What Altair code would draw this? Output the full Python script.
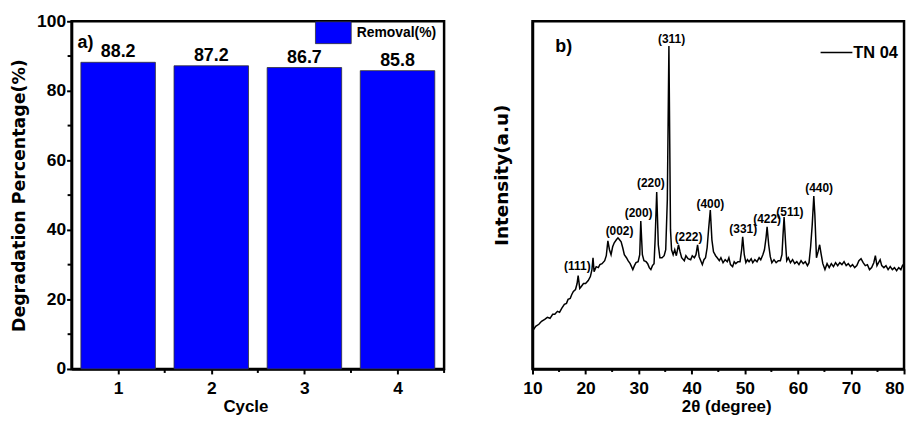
import altair as alt
import pandas as pd

# ---------------- panel a) data ----------------
cycles = [1, 2, 3, 4]
removal = [88.2, 87.2, 86.7, 85.8]
cycle_ticks = [1, 2, 3, 4]
cycle_minor = [1.5, 2.5, 3.5, 4.5]
pct_ticks = [0, 20, 40, 60, 80, 100]
pct_minor = [10, 30, 50, 70, 90]

# ---------------- panel b) data ----------------
two_theta = [10.0, 10.6, 11.2, 11.7, 12.3, 12.8, 13.3, 13.8, 14.2, 14.7, 15.1, 15.5, 16.0, 16.4, 16.7,
             17.1, 17.4, 17.7, 18.1, 18.4, 18.6, 18.9, 19.2, 19.6, 20.0, 20.5, 20.9, 21.2, 21.4, 21.6,
             22.0, 22.4, 22.7, 23.1, 23.6, 23.9, 24.2, 24.5, 24.8, 25.1, 25.4, 25.8, 26.1, 26.4, 26.7,
             27.0, 27.3, 27.7, 28.0, 28.4, 28.9, 29.2, 29.5, 29.9, 30.2, 30.4, 30.7, 31.0, 31.4, 31.7,
             32.0, 32.3, 32.6, 32.9, 33.1, 33.4, 33.7, 34.0, 34.4, 34.8, 35.1, 35.4, 35.7, 36.0, 36.2,
             36.5, 36.8, 37.1, 37.5, 37.8, 38.1, 38.6, 38.9, 39.3, 39.8, 40.1, 40.5, 40.8, 41.1, 41.4,
             41.7, 42.0, 42.3, 42.6, 42.9, 43.2, 43.5, 43.8, 44.1, 44.5, 44.8, 45.2, 45.5, 45.9, 46.3,
             46.7, 47.0, 47.3, 47.7, 48.0, 48.3, 48.7, 49.1, 49.4, 49.6, 49.9, 50.2, 50.5, 50.8, 51.2,
             51.5, 51.9, 52.3, 52.7, 53.0, 53.4, 53.7, 54.0, 54.2, 54.5, 54.8, 55.1, 55.5, 55.9, 56.3,
             56.7, 57.0, 57.2, 57.4, 57.7, 57.9, 58.2, 58.6, 59.0, 59.4, 59.8, 60.2, 60.6, 61.0, 61.4,
             61.8, 62.1, 62.4, 62.7, 63.0, 63.2, 63.5, 63.8, 64.1, 64.4, 64.7, 65.1, 65.5, 65.9, 66.3,
             66.7, 67.1, 67.5, 67.9, 68.3, 68.7, 69.1, 69.5, 69.9, 70.3, 70.7, 71.1, 71.5, 71.9, 72.3,
             72.7, 73.1, 73.5, 73.9, 74.3, 74.6, 74.9, 75.2, 75.5, 75.8, 76.2, 76.6, 77.0, 77.4, 77.8,
             78.2, 78.6, 79.0, 79.4, 79.7, 80.0]
intensity = [38, 43, 45, 48, 50, 52, 51, 55, 55, 58, 57, 61, 65, 66, 70,
             71, 75, 78, 80, 86, 94, 81, 83, 86, 86, 89, 93, 100, 112, 98,
             103, 102, 105, 106, 109, 114, 129, 120, 115, 123, 127, 130, 132, 130, 128,
             122, 115, 112, 109, 106, 100, 104, 107, 108, 115, 149, 115, 109, 108, 106,
             102, 100, 104, 106, 130, 178, 125, 112, 112, 114, 120, 170, 325, 140, 120,
             115, 120, 114, 125, 118, 112, 109, 114, 111, 110, 114, 112, 115, 125, 113,
             109, 105, 110, 112, 122, 142, 160, 130, 118, 114, 112, 109, 112, 107, 110,
             108, 112, 105, 103, 108, 106, 108, 108, 120, 133, 115, 107, 110, 108, 111,
             107, 110, 108, 112, 110, 115, 120, 132, 143, 125, 113, 107, 110, 107, 109,
             109, 115, 135, 153, 125, 109, 112, 107, 110, 106, 108, 105, 109, 106, 108,
             104, 107, 123, 145, 174, 155, 112, 118, 125, 115, 106, 100, 106, 102, 106,
             103, 107, 104, 107, 105, 108, 104, 106, 103, 105, 102, 104, 109, 111, 107,
             104, 105, 100, 102, 107, 114, 104, 107, 110, 104, 102, 104, 100, 103, 100,
             102, 99, 102, 100, 104, 106]
deg_ticks = [10, 20, 30, 40, 50, 60, 70, 80]
deg_minor = [15, 25, 35, 45, 55, 65, 75]
hkl = ["(111)", "(002)", "(200)", "(220)", "(311)", "(222)", "(400)", "(331)", "(422)", "(511)", "(440)"]
hkl_x = [18.45, 26.4, 30.0, 32.3, 36.2, 39.4, 43.5, 49.7, 54.2, 58.5, 64.0]
hkl_y = [104, 139, 157, 187, 332, 133, 166, 141, 151, 158, 182]

FONT = "Liberation Sans"
WIDE = "DejaVu Sans"

df_bar = pd.DataFrame({"cycle": cycles, "removal": removal, "series": ["Removal(%)"] * len(cycles)})
df_xminor_a = pd.DataFrame({"cycle": cycle_minor})
df_yminor_a = pd.DataFrame({"removal": pct_minor})

x_a = alt.X("cycle:Q", scale=alt.Scale(domain=[0.5, 4.5], nice=False, zero=False, padding=0),
            axis=alt.Axis(values=cycle_ticks, format="d", title="Cycle", titleX=175,
                          labelFlush=False, labelPadding=6, titlePadding=1.5))
y_a = alt.Y("removal:Q", scale=alt.Scale(domain=[0, 100], nice=False, padding=0),
            axis=alt.Axis(values=pct_ticks, title="Degradation Percentage(%)", titleFont=WIDE,
                          titleFontSize=17.5, labelPadding=1, titlePadding=8, minExtent=0))

bars = alt.Chart(df_bar).mark_bar(width=75, stroke="#333333", strokeWidth=0.8).encode(
    x=x_a, y=y_a,
    color=alt.Color("series:N", scale=alt.Scale(range=["#0000FF"]),
                    legend=alt.Legend(orient="none", legendX=245, legendY=-7, title=None, padding=0,
                                      symbolType="M-1,-0.611H1V0.611H-1Z", symbolSize=1296,
                                      symbolStrokeColor="#333333", symbolStrokeWidth=0.8,
                                      symbolOpacity=1, labelOffset=5, labelFont=FONT,
                                      labelFontSize=14, labelFontWeight="bold", labelColor="black")))
bar_text = alt.Chart(df_bar).mark_text(dy=-5, baseline="alphabetic", font=FONT, fontSize=18,
                                       fontWeight="bold", color="black").encode(
    x=x_a, y=y_a, text=alt.Text("removal:Q", format=".1f"))
xminor_a = alt.Chart(df_xminor_a).mark_tick(orient="vertical", size=4, thickness=2, yOffset=2,
                                            color="black", opacity=1).encode(x=x_a, y=alt.datum(0))
yminor_a = alt.Chart(df_yminor_a).mark_tick(orient="horizontal", size=4, thickness=2, xOffset=-2,
                                            color="black", opacity=1).encode(y=y_a, x=alt.datum(0.5))
label_a = alt.Chart(pd.DataFrame({"t": ["a)"]})).mark_text(
    align="left", baseline="alphabetic", font=FONT, fontSize=18, fontWeight="bold", color="black"
).encode(x=alt.value(6), y=alt.value(26.5), text="t:N")

panel_a = alt.layer(bars, bar_text, xminor_a, yminor_a, label_a).properties(width=375, height=350)

# ---------------- panel b) ----------------
df_xrd = pd.DataFrame({"two_theta": two_theta, "intensity": intensity, "series": ["TN 04"] * len(two_theta)})
df_hkl = pd.DataFrame({"two_theta": hkl_x, "intensity": hkl_y, "hkl": hkl})
df_xminor_b = pd.DataFrame({"two_theta": deg_minor})

x_b = alt.X("two_theta:Q", scale=alt.Scale(domain=[10, 80], nice=False, zero=False, padding=0),
            axis=alt.Axis(values=deg_ticks, format="d", title="2θ (degree)", titleX=195,
                          labelFlush=False, labelPadding=6, titlePadding=1.5,
                          labelAlign={"condition": {"test": "datum.value == 80", "value": "right"},
                                      "value": "center"}))
y_b = alt.Y("intensity:Q", scale=alt.Scale(domain=[0, 350], nice=False, padding=0),
            axis=alt.Axis(labels=False, ticks=False, title="Intensity(a.u)", titleFont=WIDE,
                          titleFontSize=18.5, titlePadding=21, minExtent=0, titleY=154.5))

line = alt.Chart(df_xrd).mark_line(strokeWidth=1.5, interpolate="linear").encode(
    x=x_b, y=y_b,
    color=alt.Color("series:N", scale=alt.Scale(range=["black"]),
                    legend=alt.Legend(orient="none", legendX=289, legendY=14.5, title=None, padding=0,
                                      symbolType="stroke", symbolSize=1024, symbolStrokeWidth=1.5,
                                      labelOffset=0, labelFont=FONT, labelFontSize=16.5,
                                      labelFontWeight="bold", labelColor="black")))
hkl_text = alt.Chart(df_hkl).mark_text(align="center", baseline="middle", font=FONT, fontSize=12,
                                       fontWeight="bold", color="black").encode(
    x=x_b, y=y_b, text="hkl:N")
xminor_b = alt.Chart(df_xminor_b).mark_tick(orient="vertical", size=3, thickness=2, yOffset=1.5,
                                            color="black", opacity=1).encode(x=x_b, y=alt.datum(0))
label_b = alt.Chart(pd.DataFrame({"t": ["b)"]})).mark_text(
    align="left", baseline="alphabetic", font=FONT, fontSize=18, fontWeight="bold", color="black"
).encode(x=alt.value(23), y=alt.value(31), text="t:N")

panel_b = alt.layer(line, hkl_text, xminor_b, label_b).properties(width=374, height=350)

chart = alt.hconcat(panel_a, panel_b, spacing=44).resolve_scale(
    color="independent", x="independent", y="independent"
).resolve_legend(color="independent").properties(
    padding={"left": 1, "top": 1, "right": 0, "bottom": 0}
).configure_view(stroke="black", strokeWidth=2.5).configure_axis(
    grid=False, domainColor="black", domainWidth=2.5, tickColor="black", tickWidth=2, tickSize=5,
    labelFont=FONT, labelFontSize=17.5, labelFontWeight="bold", labelColor="black",
    titleFont=FONT, titleFontSize=17, titleFontWeight="bold", titleColor="black"
)

chart.save("out.html", embed_options={"renderer": "svg", "actions": False})
